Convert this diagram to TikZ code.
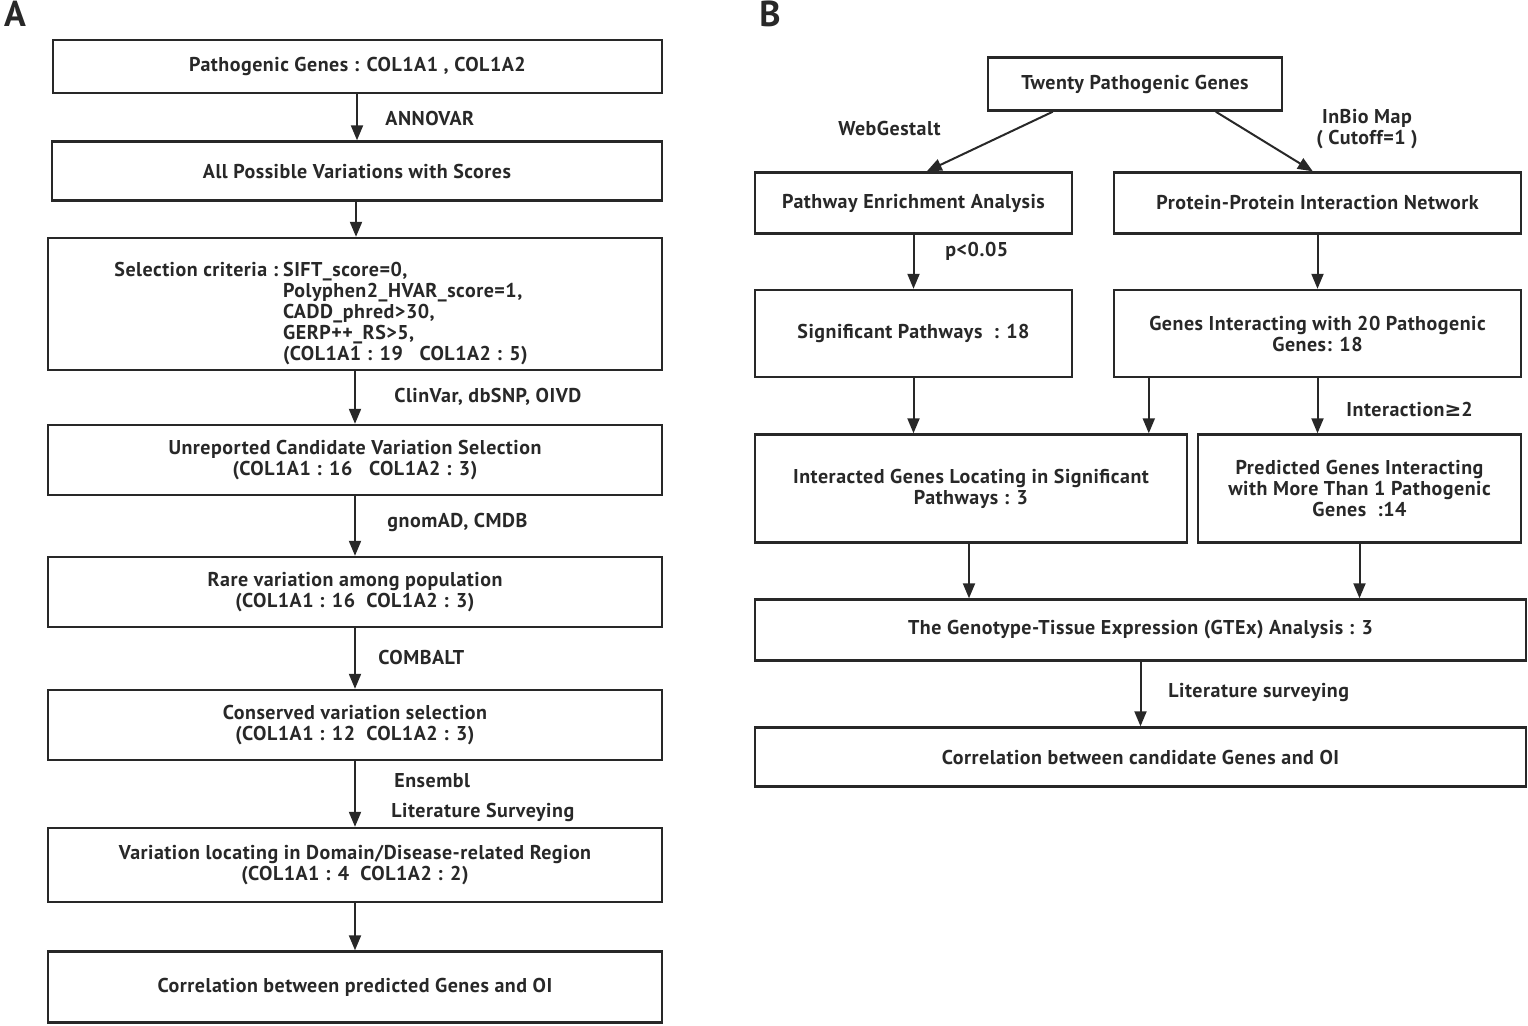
\documentclass[tikz,border=0pt]{standalone}
\usepackage{fontspec}
\setmainfont{PT Sans}[LetterSpace=2.5]
\newfontfamily\symfont{DejaVu Sans}
\usetikzlibrary{arrows.meta,calc}
\definecolor{ink}{RGB}{40,40,40}
\tikzset{
  box/.style={draw=ink, line width=1.2pt, rectangle, inner sep=0pt, align=center, text=ink, font=\bfseries\fontsize{10}{10.5}\selectfont},
  lab/.style={anchor=west, inner sep=0pt, text=ink, font=\bfseries\fontsize{10}{10.5}\selectfont},
  arr/.style={draw=ink, line width=1pt, -{Triangle[length=7.5pt,width=6pt]}},
  panel/.style={inner sep=0pt, text=ink, font=\bfseries\fontsize{18}{20}\selectfont}
}
\begin{document}
\begin{tikzpicture}[x=0.5pt,y=-0.5pt]
\useasboundingbox (0,0) rectangle (1528,1025);
% panel labels
\node[panel] (pA) at (15,14) {A};
\node[panel] (pB) at (770,14) {B};
% ---------- Panel A ----------
\node[box, minimum width=304.5pt, minimum height=26.5pt] (a1) at (357.5,66.5) {Pathogenic Genes : COL1A1 , COL1A2};
\node[box, minimum width=305pt, minimum height=29.5pt] (a2) at (357,171) {All Possible Variations with Scores};
\node[box, minimum width=307pt, minimum height=66pt] (a3) at (355,304) {};
\node[lab, anchor=north west, align=left] (a3t) at (114,261) {\begin{tabular}{@{}l@{}l@{}}Selection criteria :\hspace{2.5pt} & SIFT\_score=0,\\ & Polyphen2\_HVAR\_score=1,\\ & CADD\_phred>30,\\ & GERP++\_RS>5,\\ & (COL1A1 : 19\ \ \ COL1A2 : 5)\end{tabular}};
\node[box, minimum width=307pt, minimum height=35pt] (a4) at (355,460) {Unreported Candidate Variation Selection\\(COL1A1 : 16\ \ \ COL1A2 : 3)};
\node[box, minimum width=307pt, minimum height=35pt] (a5) at (355,592) {Rare variation among population\\(COL1A1 : 16\ \ COL1A2 : 3)};
\node[box, minimum width=307pt, minimum height=35pt] (a6) at (355,725) {Conserved variation selection\\(COL1A1 : 12\ \ COL1A2 : 3)};
\node[box, minimum width=307pt, minimum height=37pt] (a7) at (355,865) {Variation locating in Domain/Disease-related Region\\(COL1A1 : 4\ \ COL1A2 : 2)};
\node[box, minimum width=307pt, minimum height=35.5pt] (a8) at (355,987) {Correlation between predicted Genes and OI};
\draw[arr] (a1.south -| 357,0) -- (a2.north -| 357,0);
\draw[arr] (a2.south -| 356,0) -- (a3.north -| 356,0);
\draw[arr] (a3) -- (a4);
\draw[arr] (a4) -- (a5);
\draw[arr] (a5) -- (a6);
\draw[arr] (a6) -- (a7);
\draw[arr] (a7) -- (a8);
\node[lab] (l1) at (385,118) {ANNOVAR};
\node[lab] (l2) at (394,397) {ClinVar, dbSNP, OIVD};
\node[lab] (l3) at (387,522) {gnomAD, CMDB};
\node[lab] (l4) at (378,657) {COMBALT};
\node[lab] (l5) at (394,781) {Ensembl};
\node[lab] (l6) at (391,812) {Literature Surveying};
% ---------- Panel B ----------
\node[box, minimum width=147pt, minimum height=26.5pt] (T) at (1135,84) {Twenty Pathogenic Genes};
\node[box, minimum width=158.5pt, minimum height=30.5pt] (PEA) at (913.5,203) {Pathway Enrichment Analysis};
\node[box, minimum width=203.5pt, minimum height=30.5pt] (PPI) at (1317.5,203) {Protein-Protein Interaction Network};
\node[box, minimum width=158.5pt, minimum height=43.5pt] (SP) at (913.5,333.5) {Significant Pathways\ \ : 18};
\node[box, minimum width=203.5pt, minimum height=43.5pt] (GI) at (1317.5,333.5) {Genes Interacting with 20 Pathogenic\\Genes: 18};
\node[box, minimum width=216pt, minimum height=54pt] (IG) at (971,488.5) {Interacted Genes Locating in Significant\\Pathways : 3};
\node[box, minimum width=161.5pt, minimum height=54pt] (PG) at (1359.5,488.5) {Predicted Genes Interacting\\with More Than 1 Pathogenic\\Genes\ \ :14};
\node[box, minimum width=385.5pt, minimum height=30.5pt] (GT) at (1140.5,630) {The Genotype-Tissue Expression (GTEx) Analysis : 3};
\node[box, minimum width=385.5pt, minimum height=29.5pt] (FB) at (1140.5,757) {Correlation between candidate Genes and OI};
\draw[arr] ($(T.south west)+(66,0)$) -- ($(PEA.north west)+(173,0)$);
\draw[arr] ($(T.south west)+(229,0)$) -- ($(PPI.north west)+(200,0)$);
\draw[arr] (PEA) -- (SP);
\draw[arr] (PPI) -- (GI);
\draw[arr] (SP.south) -- (SP.south |- IG.north);
\draw[arr] ($(GI.south west)+(36,0)$) coordinate (gi1) -- (gi1 |- IG.north);
\draw[arr] (GI.south) -- (GI.south |- PG.north);
\draw[arr] ($(IG.south)+(-2,0)$) coordinate (ig1) -- (ig1 |- GT.north);
\draw[arr] (PG.south) -- (PG.south |- GT.north);
\draw[arr] (GT) -- (FB);
\node[lab] (m1) at (838,128) {WebGestalt};
\node[lab, anchor=center, align=center] (m2) at (1367,129) {InBio Map\\( Cutoff=1 )};
\node[lab] (m3) at (945,251) {p<0.05};
\node[lab] (m4) at (1346,409) {Interaction{\symfont\bfseries ≥}2};
\node[lab] (m5) at (1168,692) {Literature surveying};
\end{tikzpicture}
\end{document}
